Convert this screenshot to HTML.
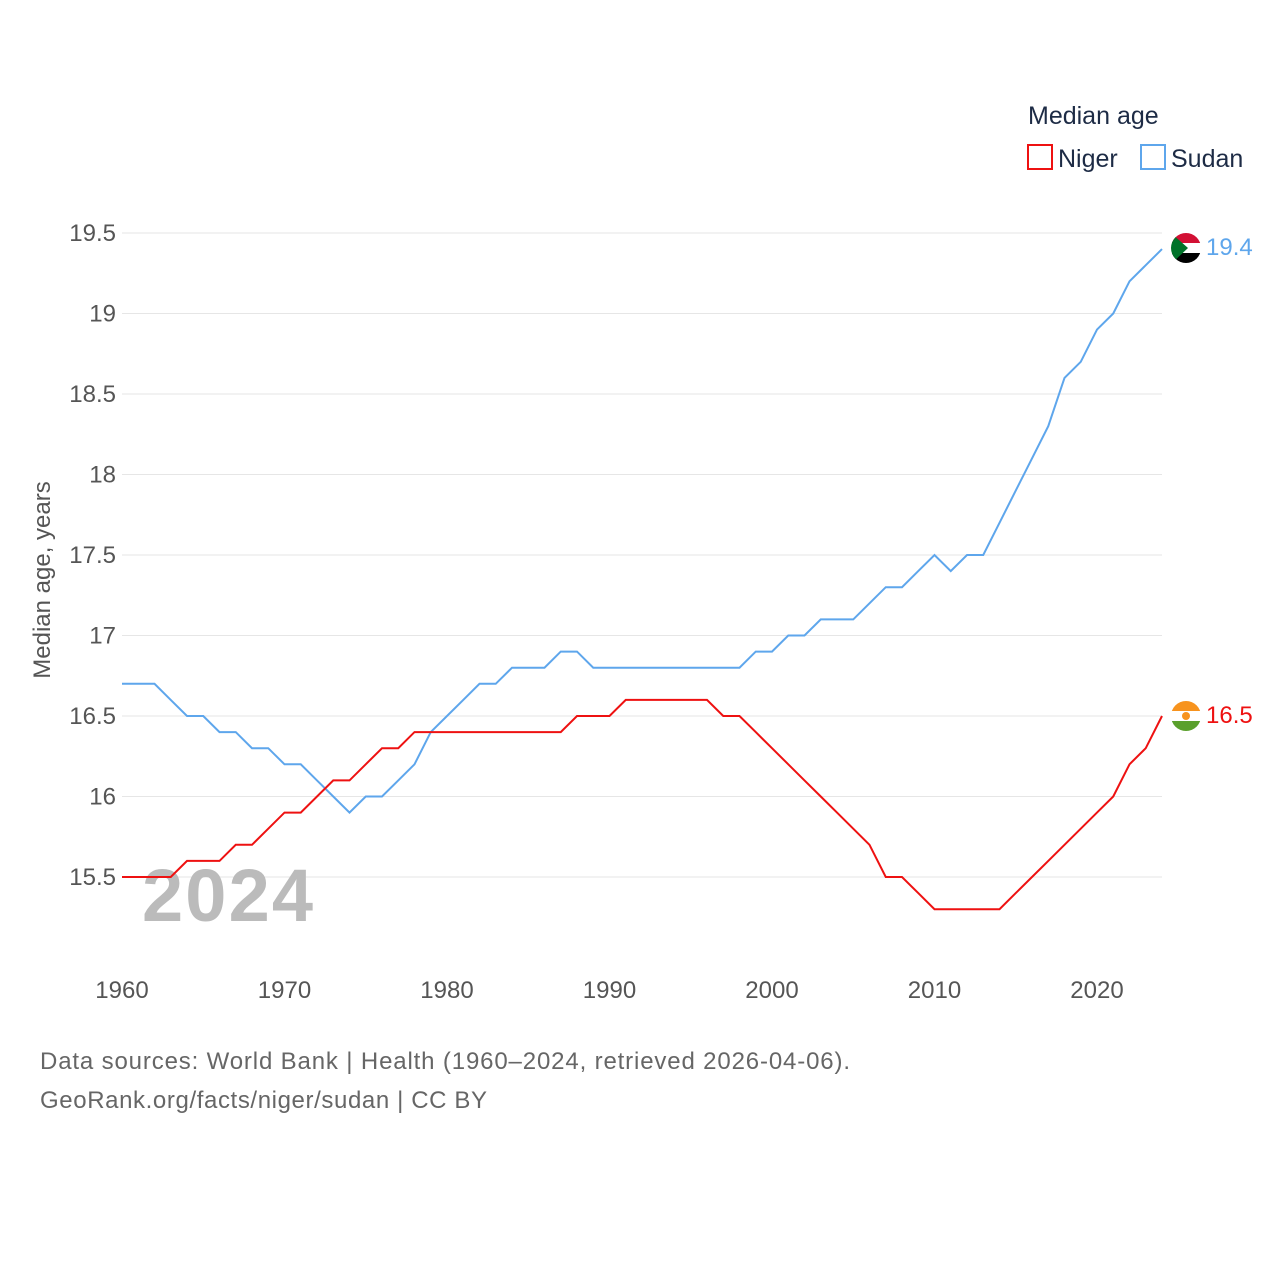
<!DOCTYPE html>
<html><head><meta charset="utf-8"><style>
body{margin:0;background:#fff;font-family:"Liberation Sans",sans-serif}
</style></head><body>
<svg width="1280" height="1280" viewBox="0 0 1280 1280" xmlns="http://www.w3.org/2000/svg">
<rect width="1280" height="1280" fill="#fff"/>
<g id="grid"></g>
<g id="yt" font-size="24" fill="#555" text-anchor="end"></g>
<g id="xt" font-size="24" fill="#555" text-anchor="middle"></g>
<text x="0" y="0" transform="translate(50,580) rotate(-90)" text-anchor="middle" font-size="24" fill="#555">Median age, years</text>
<text x="142" y="921" font-size="74" font-weight="bold" fill="#bbb" textLength="171">2024</text>
<g id="series"></g>
<text x="1028" y="124" font-size="25" fill="#1d2b45">Median age</text>
<g><rect x="1028" y="145" width="24" height="24" fill="none" stroke="#ee1111" stroke-width="2"/><text x="1058" y="167" font-size="25" fill="#1d2b45">Niger</text></g>
<g><rect x="1141" y="145" width="24" height="24" fill="none" stroke="#5ea6ec" stroke-width="2"/><text x="1171" y="167" font-size="25" fill="#1d2b45">Sudan</text></g>
<g>
<clipPath id="cs"><circle cx="1186" cy="248" r="15"/></clipPath>
<g clip-path="url(#cs)"><rect x="1170" y="233" width="32" height="10" fill="#d21034"/><rect x="1170" y="243" width="32" height="10" fill="#fff"/><rect x="1170" y="253" width="32" height="11" fill="#000"/><polygon points="1171,233 1188,248 1171,264" fill="#007229"/></g></g>
<g>
<clipPath id="cn"><circle cx="1186" cy="716" r="15"/></clipPath>
<g clip-path="url(#cn)"><rect x="1170" y="701" width="32" height="10" fill="#f7931e"/><rect x="1170" y="711" width="32" height="10" fill="#fff"/><rect x="1170" y="721" width="32" height="11" fill="#5aa02c"/><circle cx="1186" cy="716" r="4" fill="#f7931e"/></g></g>
<text x="1206" y="255" font-size="24" fill="#5ea6ec">19.4</text>
<text x="1206" y="723" font-size="24" fill="#ee1111">16.5</text>
<text x="40" y="1069" font-size="24" fill="#666" textLength="810">Data sources: World Bank | Health (1960–2024, retrieved 2026-04-06).</text>
<text x="40" y="1108" font-size="24" fill="#666" textLength="447">GeoRank.org/facts/niger/sudan | CC BY</text>
</svg>
<script>
const years=[];for(let y=1960;y<=2024;y++)years.push(y);
const niger=[15.5,15.5,15.5,15.5,15.6,15.6,15.6,15.7,15.7,15.8,15.9,15.9,16.0,16.1,16.1,16.2,16.3,16.3,16.4,16.4,16.4,16.4,16.4,16.4,16.4,16.4,16.4,16.4,16.5,16.5,16.5,16.6,16.6,16.6,16.6,16.6,16.6,16.5,16.5,16.4,16.3,16.2,16.1,16.0,15.9,15.8,15.7,15.5,15.5,15.4,15.3,15.3,15.3,15.3,15.3,15.4,15.5,15.6,15.7,15.8,15.9,16.0,16.2,16.3,16.5];
const sudan=[16.7,16.7,16.7,16.6,16.5,16.5,16.4,16.4,16.3,16.3,16.2,16.2,16.1,16.0,15.9,16.0,16.0,16.1,16.2,16.4,16.5,16.6,16.7,16.7,16.8,16.8,16.8,16.9,16.9,16.8,16.8,16.8,16.8,16.8,16.8,16.8,16.8,16.8,16.8,16.9,16.9,17.0,17.0,17.1,17.1,17.1,17.2,17.3,17.3,17.4,17.5,17.4,17.5,17.5,17.7,17.9,18.1,18.3,18.6,18.7,18.9,19.0,19.2,19.3,19.4];
const yTicks=[15.5,16,16.5,17,17.5,18,18.5,19,19.5];
const xTicks=[1960,1970,1980,1990,2000,2010,2020];
const X=y=>122+(y-1960)*16.25;
const Y=v=>877-(v-15.5)*161;
const NS="http://www.w3.org/2000/svg";
const grid=document.getElementById('grid'),yt=document.getElementById('yt'),xt=document.getElementById('xt'),ser=document.getElementById('series');
yTicks.forEach(v=>{
 const l=document.createElementNS(NS,'line');
 
 
 l.setAttribute('x1',122);l.setAttribute('x2',1162);l.setAttribute('y1',Y(v));l.setAttribute('y2',Y(v));l.setAttribute('stroke','#e6e6e6');
 grid.appendChild(l);
 const t=document.createElementNS(NS,'text');
 
 
 t.setAttribute('x',116);t.setAttribute('y',Y(v)+8);t.textContent=String(v);
 yt.appendChild(t);
});
xTicks.forEach(v=>{
 const t=document.createElementNS(NS,'text');
 
 
 t.setAttribute('x',X(v));t.setAttribute('y',998);t.textContent=String(v);
 xt.appendChild(t);
});
function line(data,color,name){
 const p=document.createElementNS(NS,'path');
 
 
 p.setAttribute('d',data.map((v,i)=>(i?'L':'M')+X(years[i])+','+Y(v)).join(''));
 p.setAttribute('fill','none');p.setAttribute('stroke',color);p.setAttribute('stroke-width','2');
 ser.appendChild(p);
}
line(sudan,'#5ea6ec','sudan-line');
line(niger,'#ee1111','niger-line');
</script>
</body></html>
